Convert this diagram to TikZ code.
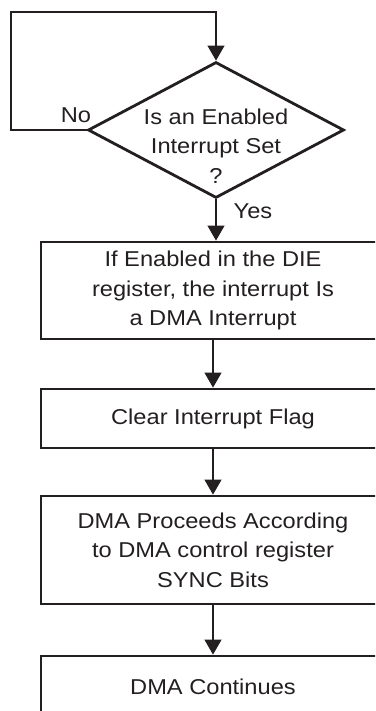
\documentclass[tikz,border=0pt]{standalone}
\usepackage{fontspec}
\setmainfont{Liberation Sans}[FakeStretch=1.1]
\usetikzlibrary{shapes.geometric,arrows.meta}
\definecolor{inkgray}{HTML}{231F20}
\begin{document}
\begin{tikzpicture}[x=1pt,y=-1pt,
    every node/.style={text=inkgray, font=\fontsize{21.5}{29.5}\selectfont},
    stepbox/.style={draw=inkgray, line width=2.8pt, minimum width=344pt, inner sep=0pt, align=center},
    decision/.style={diamond, draw=inkgray, line width=2.8pt, minimum width=256pt, minimum height=136pt, inner sep=0pt},
    flow/.style={draw=inkgray, line width=1.1pt, -{Triangle[width=17pt,length=15pt]}}]
    \useasboundingbox (0,0) rectangle (375,711);
    \clip (0,0) rectangle (375,711);
    % decision
    \node[decision] (dec) at (216,130) {};
    \node[align=center, inner sep=0pt] (dectext) at (216,146) {Is an Enabled\\Interrupt Set\\?};
    \node (no) at (76,115) {No};
    \node (yes) at (253,211) {Yes};
    % steps
    \node[stepbox, minimum height=97pt] (b1) at (213,290.5) {If Enabled in the DIE\\register, the interrupt Is\\a DMA Interrupt};
    \node[stepbox, minimum height=59pt] (b2) at (213,418.5) {Clear Interrupt Flag};
    \node[stepbox, minimum height=108pt] (b3) at (213,550) {DMA Proceeds According\\to DMA control register\\SYNC Bits};
    \node[stepbox, minimum height=62pt] (b4) at (213,687) {DMA Continues};
    % loop back
    \coordinate (loopbl) at (11,130);
    \coordinate (looptl) at (11,12);
    \draw[flow] (dec.west) -- (loopbl) -- (looptl) -- (dec.north |- looptl) -- (dec.north);
    \draw[flow] (dec.south) -- (dec.south |- b1.north);
    \draw[flow] (b1.south) -- (b2.north);
    \draw[flow] (b2.south) -- (b3.north);
    \draw[flow] (b3.south) -- (b4.north);
\end{tikzpicture}
\end{document}
